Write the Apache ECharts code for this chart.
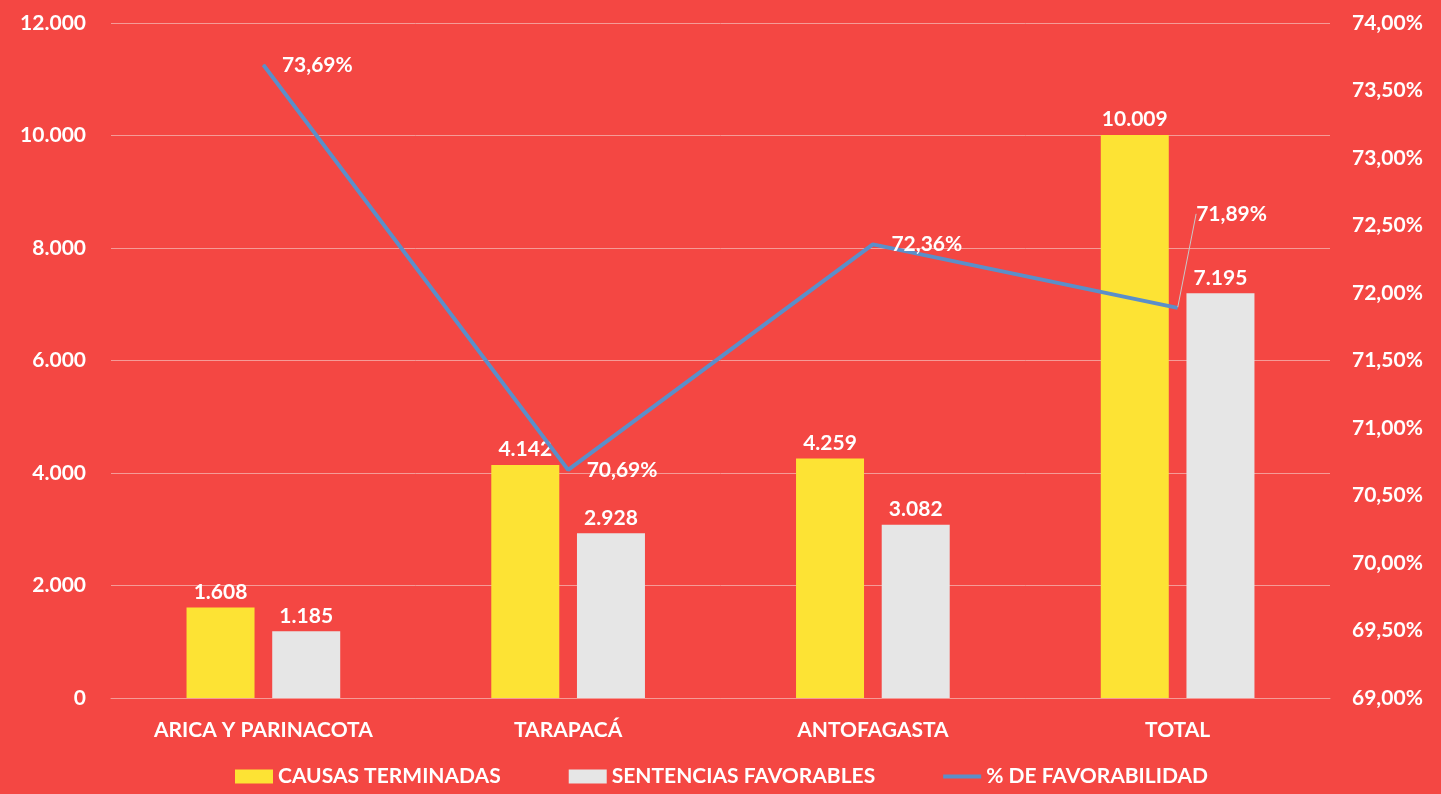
<!DOCTYPE html>
<html>
<head>
<meta charset="utf-8">
<script src="https://cdn.jsdelivr.net/npm/echarts@6/dist/echarts.min.js"></script>
<style>
  html, body { margin: 0; padding: 0; background: #f44743; }
  #chart { width: 1441px; height: 794px; }
</style>
</head>
<body>
<div id="chart"></div>
<script>
var categories = ['ARICA Y PARINACOTA', 'TARAPACÁ', 'ANTOFAGASTA', 'TOTAL'];
var causasTerminadas = [1608, 4142, 4259, 10009];
var sentenciasFavorables = [1185, 2928, 3082, 7195];
var favorabilidad = [73.69, 70.69, 72.36, 71.89];

function miles(v) {
    return String(v).replace(/\B(?=(\d{3})+(?!\d))/g, '.');
}
function pct(v) {
    return v.toFixed(2).replace('.', ',') + '%';
}

// only the last point (TOTAL) has its label pulled up with a leader line
var lineData = favorabilidad.map(function (v, i) {
    return {
        value: v,
        labelLine: { show: i === favorabilidad.length - 1 }
    };
});

var font = 'Lato';
var fs = 21;
var myChart = echarts.init(document.getElementById('chart'));
var option = {
    backgroundColor: '#f44743',
    textStyle: { fontFamily: font },
    legend: {
        bottom: 2,
        left: 230,
        itemGap: 68,
        itemWidth: 38,
        itemHeight: 14,
        textStyle: { color: '#ffffff', fontWeight: 'bold', fontSize: fs, fontFamily: font },
        data: [
            { name: 'CAUSAS TERMINADAS', icon: 'rect' },
            { name: 'SENTENCIAS FAVORABLES', icon: 'rect' },
            { name: '% DE FAVORABILIDAD', icon: 'path://M0,0 L40,0 L40,4 L0,4 Z' }
        ]
    },
    grid: {
        top: 23,
        bottom: 96,
        left: 111,
        right: 111,
        containLabel: false
    },
    xAxis: {
        type: 'category',
        data: categories,
        axisLine: { lineStyle: { color: '#f59b97', width: 1 } },
        axisTick: { show: false },
        axisLabel: { color: '#ffffff', fontWeight: 'bold', fontSize: fs, margin: 22, fontFamily: font }
    },
    yAxis: [
        {
            type: 'value',
            min: 0,
            max: 12000,
            interval: 2000,
            axisLine: { show: false },
            axisTick: { show: false },
            splitLine: { lineStyle: { color: '#f59b97', width: 1 } },
            axisLabel: {
                color: '#ffffff', fontWeight: 'bold', fontSize: fs, margin: 25, fontFamily: font,
                formatter: function (v) { return miles(v); }
            }
        },
        {
            type: 'value',
            min: 69,
            max: 74,
            interval: 0.5,
            axisLine: { show: false },
            axisTick: { show: false },
            splitLine: { show: false },
            axisLabel: {
                color: '#ffffff', fontWeight: 'bold', fontSize: fs, margin: 22, fontFamily: font,
                formatter: function (v) { return pct(v); }
            }
        }
    ],
    series: [
        {
            name: 'CAUSAS TERMINADAS',
            type: 'bar',
            barWidth: 68,
            barGap: '26%',
            itemStyle: { color: '#fde334' },
            label: {
                show: true,
                position: 'top',
                distance: 5,
                color: '#ffffff',
                fontWeight: 'bold',
                fontSize: fs,
                fontFamily: font,
                formatter: function (p) { return miles(p.value); }
            },
            data: causasTerminadas
        },
        {
            name: 'SENTENCIAS FAVORABLES',
            type: 'bar',
            barWidth: 68,
            itemStyle: { color: '#e6e6e6' },
            label: {
                show: true,
                position: 'top',
                distance: 5,
                color: '#ffffff',
                fontWeight: 'bold',
                fontSize: fs,
                fontFamily: font,
                formatter: function (p) { return miles(p.value); }
            },
            data: sentenciasFavorables
        },
        {
            name: '% DE FAVORABILIDAD',
            type: 'line',
            yAxisIndex: 1,
            symbol: 'circle',
            symbolSize: 1,
            lineStyle: { color: '#5b8fc9', width: 4 },
            itemStyle: { color: '#5b8fc9' },
            label: {
                show: true,
                position: 'right',
                distance: 18,
                color: '#ffffff',
                fontWeight: 'bold',
                fontSize: fs,
                fontFamily: font,
                formatter: function (p) { return pct(p.value); }
            },
            labelLine: { lineStyle: { color: '#c8c8c8', width: 1 } },
            labelLayout: function (params) {
                if (params.dataIndex === 3) {
                    return { dy: -94 };
                }
                return {};
            },
            data: lineData
        }
    ]
};
myChart.setOption(option);
</script>
</body>
</html>
